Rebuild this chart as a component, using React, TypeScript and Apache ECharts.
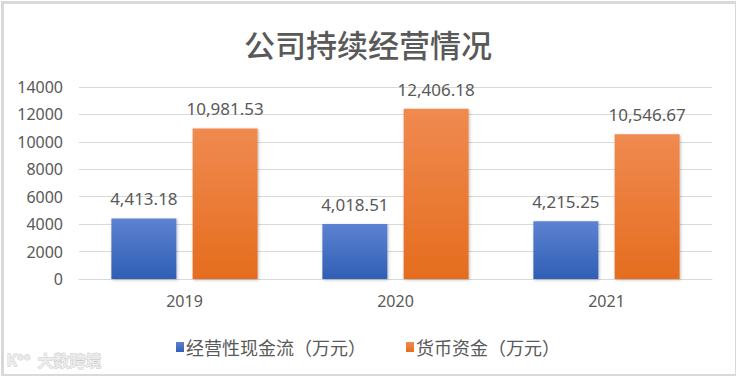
import React, { useEffect, useRef } from "react";
import * as echarts from "echarts";

const categories = ["2019", "2020", "2021"];
const cashFlow = [4413.18, 4018.51, 4215.25];
const funds = [10981.53, 12406.18, 10546.67];
const seriesNames = ["经营性现金流（万元）", "货币资金（万元）"];
const titleText = "公司持续经营情况";

const FONT = "'Noto Sans', 'Noto Sans CJK SC', sans-serif";
const fmt = (v: number) =>
  v.toLocaleString("en-US", { minimumFractionDigits: 2, maximumFractionDigits: 2 });

export default function App() {
  const ref = useRef<HTMLDivElement>(null);
  useEffect(() => {
    if (!ref.current) return;
    const chart = echarts.init(ref.current, undefined, { renderer: "svg" });
    const grad = (top: string, bottom: string) =>
      new echarts.graphic.LinearGradient(0, 0, 0, 1, [
        { offset: 0, color: top },
        { offset: 1, color: bottom },
      ]);
    const label = {
      show: true,
      position: "top",
      distance: 11,
      formatter: (p: any) => fmt(p.value),
      fontFamily: FONT,
      fontSize: 17,
      color: "#595959",
    };
    chart.setOption({
      animation: false,
      backgroundColor: "#ffffff",
      title: {
        text: titleText,
        left: "center",
        top: 23,
        textStyle: { fontFamily: "'Noto Sans CJK SC', sans-serif", fontSize: 31, fontWeight: 500, color: "#595959" },
      },
      legend: {
        top: 333,
        left: "center",
        itemWidth: 8,
        itemHeight: 10,
        itemGap: 40,
        icon: "rect",
        textStyle: { fontFamily: "'Noto Sans CJK SC', sans-serif", fontSize: 18, color: "#595959", padding: [0, 0, 0, -3] },
        data: seriesNames,
      },
      grid: { left: 79, right: 24, top: 87, bottom: 97 },
      xAxis: {
        type: "category",
        data: categories,
        axisLine: { lineStyle: { color: "#d9d9d9" } },
        axisTick: { show: false },
        axisLabel: { fontFamily: FONT, fontSize: 16, color: "#595959", margin: 14 },
      },
      yAxis: {
        type: "value",
        min: 0,
        max: 14000,
        interval: 2000,
        axisLine: { show: false },
        axisTick: { show: false },
        splitLine: { lineStyle: { color: "#d9d9d9", width: 1 } },
        axisLabel: {
          fontFamily: FONT,
          fontSize: 16,
          color: "#595959",
          margin: 16,
          formatter: (v: number) => String(v),
        },
      },
      series: [
        {
          name: seriesNames[0],
          type: "bar",
          data: cashFlow,
          barWidth: 65,
          barGap: "25%",
          itemStyle: {
            color: grad("#5d82d1", "#2f5fb5"),
            shadowColor: "rgba(0,0,0,0.25)",
            shadowBlur: 3,
            shadowOffsetX: 1,
            shadowOffsetY: 1,
          },
          label,
        },
        {
          name: seriesNames[1],
          type: "bar",
          data: funds,
          barWidth: 65,
          itemStyle: {
            color: grad("#f08a50", "#e56d1e"),
            shadowColor: "rgba(0,0,0,0.25)",
            shadowBlur: 3,
            shadowOffsetX: 1,
            shadowOffsetY: 1,
          },
          label,
        },
      ],
      graphic: [
        {
          type: "rect",
          left: 0,
          top: 0,
          shape: { x: 1, y: 1, width: 734, height: 373 },
          style: { fill: "none", stroke: "#d9d9d9", lineWidth: 3 },
          silent: true,
        },
        {
          type: "text",
          left: 6,
          top: 352,
          style: {
            text: "K°°",
            fill: "#ececec",
            font: "bold 16px 'Noto Sans', sans-serif",
            stroke: "#c8c8c8",
            lineWidth: 0.8,
          },
          silent: true,
        },
        {
          type: "text",
          left: 37,
          top: 352,
          style: {
            text: "大数跨境",
            fill: "#ececec",
            font: "bold 16px 'Noto Sans CJK SC', sans-serif",
            stroke: "#c8c8c8",
            lineWidth: 0.8,
          },
          silent: true,
        },
      ],
    });
    return () => chart.dispose();
  }, []);
  return (
    <div
      ref={ref}
      style={{ position: "fixed", left: 0, top: 0, width: 736, height: 376 }}
    />
  );
}
